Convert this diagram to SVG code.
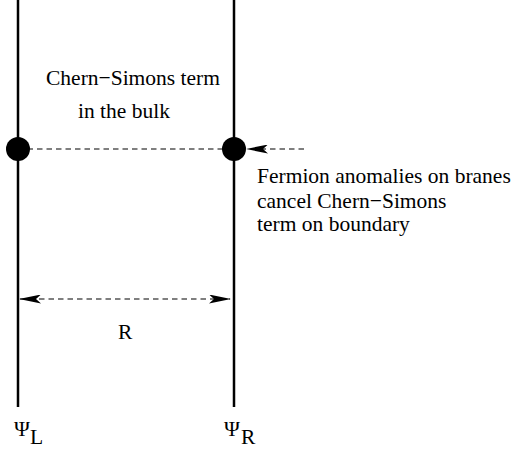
<svg xmlns="http://www.w3.org/2000/svg" width="512" height="451" viewBox="0 0 512 451">
<style>
.t{font-family:"Liberation Serif","Times New Roman",serif;font-size:21.5px;fill:#000}
.brane{stroke:#000;stroke-width:2.5;fill:none}
.dash{stroke:#000;stroke-width:1.2;stroke-dasharray:5.5,4;fill:none}
</style>
<defs>
<marker id="ah" viewBox="0 0 22 9" refX="21" refY="4.5" markerWidth="22" markerHeight="9" markerUnits="userSpaceOnUse" orient="auto-start-reverse">
<path d="M0,0 L22,4.5 L0,9 L5,4.5 Z" fill="#000"/>
</marker>
</defs>
<rect width="512" height="451" fill="#fff"/>
<g id="connectors">
<line class="dash" x1="18" y1="149" x2="234" y2="149"/>
<line class="dash" x1="304" y1="149" x2="247" y2="149" marker-end="url(#ah)"/>
<line class="dash" x1="20" y1="299" x2="230" y2="299" marker-start="url(#ah)" marker-end="url(#ah)"/>
</g>
<g id="brane-left">
<line class="brane" x1="18" y1="0" x2="18" y2="407"/>
<circle cx="18" cy="149" r="12" fill="#000"/>
<text class="t" x="14" y="436">Ψ</text>
<text class="t" x="30" y="444">L</text>
</g>
<g id="brane-right">
<line class="brane" x1="234" y1="0" x2="234" y2="407"/>
<circle cx="234" cy="149" r="12" fill="#000"/>
<text class="t" x="224" y="436">Ψ</text>
<text class="t" x="241" y="444">R</text>
</g>
<g id="bulk-label">
<text class="t" x="46" y="85">Chern−Simons term</text>
<text class="t" x="78" y="118">in the bulk</text>
</g>
<g id="boundary-label">
<text class="t" x="257" y="183">Fermion anomalies on branes</text>
<text class="t" x="257" y="208">cancel Chern−Simons</text>
<text class="t" x="257" y="231">term on boundary</text>
</g>
<g id="distance-label">
<text class="t" x="118" y="339">R</text>
</g>
</svg>
